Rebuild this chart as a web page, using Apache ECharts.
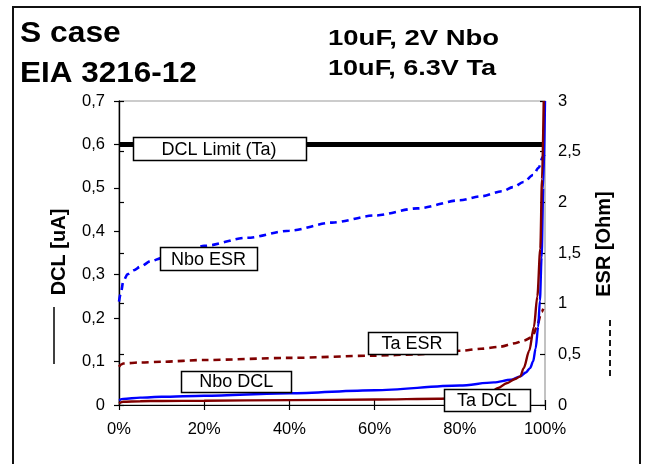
<!DOCTYPE html>
<html>
<head>
<meta charset="utf-8">
<script src="https://cdn.jsdelivr.net/npm/echarts@6/dist/echarts.min.js"></script>
<style>
  html, body { margin: 0; padding: 0; background: #fff; }
  #chart { width: 647px; height: 464px; }
</style>
</head>
<body>
<div id="chart"></div>
<script>
const FONT = '"Liberation Sans", Arial, Helvetica, sans-serif';

// Cumulative share of parts (%) and measured values
const nboDclPct = [0, 1, 5, 10, 20, 40, 60, 80, 88, 92, 94.2, 95.5, 96.5, 97.2, 97.8, 98.4, 98.8, 99.2, 99.6, 100];
const nboDclVal = [0.0115, 0.014, 0.017, 0.019, 0.0214, 0.027, 0.034, 0.045, 0.052, 0.058, 0.066, 0.075, 0.085, 0.1, 0.13, 0.18, 0.24, 0.34, 0.5, 0.7];

const taDclPct = [0, 1, 5, 10, 20, 40, 60, 75, 82, 85, 87, 89, 91, 93, 94.2, 95, 96.3, 97.4, 98.2, 98.9, 99.3, 99.7];
const taDclVal = [0.004, 0.0075, 0.0088, 0.0093, 0.0098, 0.0113, 0.0125, 0.0145, 0.0165, 0.021, 0.028, 0.039, 0.05, 0.06, 0.066, 0.085, 0.125, 0.18, 0.25, 0.36, 0.52, 0.7];

const nboEsrPct = [0, 0.5, 1, 2, 3.5, 5, 7.5, 10, 15, 20, 30, 40, 50, 60, 70, 80, 85, 90, 92.5, 95, 97.2, 98.5, 99.5, 100];
const nboEsrVal = [1.02, 1.12, 1.22, 1.29, 1.33, 1.365, 1.42, 1.45, 1.51, 1.57, 1.65, 1.72, 1.8, 1.87, 1.94, 2.02, 2.06, 2.11, 2.15, 2.2, 2.27, 2.34, 2.45, 2.48];

const taEsrPct = [0, 0.5, 1, 5, 10, 20, 40, 60, 70, 80, 85, 89.4, 93, 95, 97, 98, 99.2, 99.6];
const taEsrVal = [0.378, 0.4, 0.41, 0.42, 0.427, 0.444, 0.465, 0.487, 0.5, 0.535, 0.555, 0.575, 0.61, 0.635, 0.67, 0.76, 0.92, 0.95];

const dclLimit = 0.6;

// Callout boxes: text, anchor (%, DCL value) and box size
const callouts = [
  { text: 'DCL Limit (Ta)', pct: 23.5, val: 0.590, w: 173, h: 23 },
  { text: 'Nbo ESR',        pct: 21.0, val: 0.337, w: 97,  h: 23 },
  { text: 'Nbo DCL',        pct: 27.5, val: 0.055, w: 110, h: 21 },
  { text: 'Ta ESR',         pct: 68.8, val: 0.142, w: 89,  h: 22 },
  { text: 'Ta DCL',         pct: 86.4, val: 0.0104, w: 86, h: 22 }
];

const zip = (xs, ys) => xs.map((x, i) => [x, ys[i]]);
const comma = v => (v === 0 ? '0' : String(+v.toFixed(1)).replace('.', ','));

const BLUE = '#0000ff';
const MAROON = '#800000';

const chart = echarts.init(document.getElementById('chart'), null, { renderer: 'canvas' });

const axisLabelStyle = { color: '#000', fontFamily: FONT, fontSize: 16.5 };

chart.setOption({
  animation: false,
  backgroundColor: '#fff',
  grid: { left: 119, right: 102, top: 101, bottom: 59, show: true, borderColor: '#9a9a9a', borderWidth: 1.2 },
  xAxis: [
    {
      type: 'value', min: 0, max: 100, interval: 20, position: 'bottom',
      axisLine: { lineStyle: { color: '#000', width: 1.2 } },
      axisTick: { show: true, inside: false, length: 5, lineStyle: { color: '#000', width: 1.2 } },
      axisLabel: Object.assign({ formatter: '{value}%', margin: 16 }, axisLabelStyle),
      splitLine: { show: false }
    },
    {
      type: 'value', min: 0, max: 100, interval: 20, position: 'bottom',
      axisLine: { show: false },
      axisTick: { show: true, inside: true, length: 5, lineStyle: { color: '#000', width: 1.2 } },
      axisLabel: { show: false },
      splitLine: { show: false }
    }
  ],
  yAxis: [
    {
      type: 'value', min: 0, max: 0.7, interval: 0.1, position: 'left',
      axisLine: { show: true, lineStyle: { color: '#000', width: 1.2 } },
      axisTick: { show: true, inside: false, length: 5, lineStyle: { color: '#000', width: 1.2 } },
      axisLabel: Object.assign({ formatter: comma, margin: 14 }, axisLabelStyle),
      splitLine: { show: false }
    },
    {
      type: 'value', min: 0, max: 3, interval: 0.5, position: 'right',
      axisLine: { show: true, lineStyle: { color: '#000', width: 1.2 } },
      axisTick: { show: true, inside: false, length: 5, lineStyle: { color: '#000', width: 1.2 } },
      axisLabel: Object.assign({ formatter: comma, margin: 13 }, axisLabelStyle),
      splitLine: { show: false }
    },
    {
      type: 'value', min: 0, max: 3, interval: 0.5, position: 'right',
      axisLine: { show: false },
      axisTick: { show: true, inside: true, length: 5, lineStyle: { color: '#000', width: 1.2 } },
      axisLabel: { show: false },
      splitLine: { show: false }
    }
  ],
  series: [
    {
      name: 'DCL Limit (Ta)', type: 'line', yAxisIndex: 0, symbol: 'none',
      data: [[0, dclLimit], [100, dclLimit]],
      lineStyle: { color: '#000', width: 5 }, z: 3
    },
    {
      name: 'Nbo ESR', type: 'line', yAxisIndex: 1, symbol: 'none', smooth: 0.3, smoothMonotone: 'x',
      data: zip(nboEsrPct, nboEsrVal),
      lineStyle: { color: BLUE, width: 2.6, type: [7, 5], cap: 'butt' }, z: 4
    },
    {
      name: 'Ta ESR', type: 'line', yAxisIndex: 1, symbol: 'none', smooth: 0.3, smoothMonotone: 'x',
      data: zip(taEsrPct, taEsrVal),
      lineStyle: { color: MAROON, width: 2.6, type: [7, 5], cap: 'butt' }, z: 4
    },
    {
      name: 'Nbo DCL', type: 'line', yAxisIndex: 0, symbol: 'none', smooth: 0.3, smoothMonotone: 'x',
      data: zip(nboDclPct, nboDclVal),
      lineStyle: { color: BLUE, width: 2.4 }, z: 5
    },
    {
      name: 'Ta DCL', type: 'line', yAxisIndex: 0, symbol: 'none', smooth: 0.3, smoothMonotone: 'x',
      data: zip(taDclPct, taDclVal),
      lineStyle: { color: MAROON, width: 2.4 }, z: 6
    }
  ]
});

// Headings are drawn slightly widened, like the condensed-to-wide chart text
function heading(text, x, baseline, size, sx) {
  return {
    type: 'text', x: x, y: baseline + 0.19 * size, scaleX: sx, scaleY: 1,
    style: { text: text, font: 'bold ' + size + 'px ' + FONT, fill: '#000', align: 'left', verticalAlign: 'bottom' },
    z: 10
  };
}

// Frame, headings, axis titles and callout boxes
const graphics = [
  { type: 'rect', shape: { x: 13, y: 7, width: 627, height: 470 }, style: { fill: null, stroke: '#111', lineWidth: 2 }, z: 1 },
  heading('S case', 20, 43, 30, 1.06),
  heading('EIA 3216-12', 20, 83, 30, 1.05),
  heading('10uF, 2V Nbo', 328, 46, 22, 1.25),
  heading('10uF, 6.3V Ta', 328, 76, 22, 1.23),
  { type: 'text', x: 59, y: 252, rotation: Math.PI / 2, style: { text: 'DCL [uA]', font: 'bold 20px ' + FONT, fill: '#000', align: 'center', verticalAlign: 'middle' }, z: 10 },
  { type: 'line', shape: { x1: 54, y1: 307, x2: 54, y2: 364 }, style: { stroke: '#000', lineWidth: 1.5 }, z: 10 },
  { type: 'text', x: 604, y: 244, rotation: Math.PI / 2, style: { text: 'ESR [Ohm]', font: 'bold 20px ' + FONT, fill: '#000', align: 'center', verticalAlign: 'middle' }, z: 10 },
  { type: 'line', shape: { x1: 610, y1: 320, x2: 610, y2: 377 }, style: { stroke: '#000', lineWidth: 1.8, lineDash: [6, 4] }, z: 10 }
];

callouts.forEach(c => {
  const p = chart.convertToPixel({ xAxisIndex: 0, yAxisIndex: 0 }, [c.pct, c.val]);
  graphics.push({
    type: 'rect',
    shape: { x: Math.round(p[0] - c.w / 2) + 0.5, y: Math.round(p[1] - c.h / 2) + 0.5, width: c.w, height: c.h },
    style: { fill: '#fff', stroke: '#000', lineWidth: 1.5 },
    z: 100
  });
  graphics.push({
    type: 'text', x: p[0], y: p[1] + 1,
    style: { text: c.text, font: '18px ' + FONT, fill: '#000', align: 'center', verticalAlign: 'middle' },
    z: 101
  });
});

chart.setOption({ graphic: graphics });
</script>
</body>
</html>
